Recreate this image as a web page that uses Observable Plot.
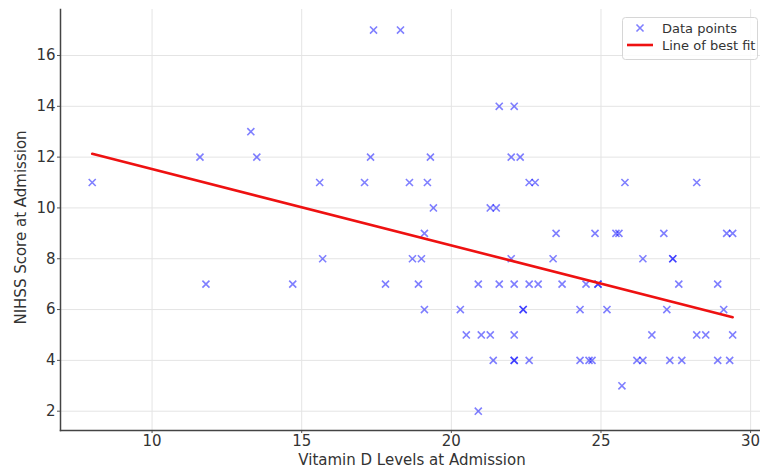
<!DOCTYPE html>
<html>
<head>
<meta charset="utf-8">
<script src="https://cdn.jsdelivr.net/npm/d3@7"></script>
<script src="https://cdn.jsdelivr.net/npm/@observablehq/plot@0.6"></script>
<style>
  html, body { margin: 0; padding: 0; background: #fff; }
  #chart svg { display: block; }
</style>
</head>
<body>
<div id="chart"></div>
<script>
// Vitamin D level (x) and NIHSS score (y), paired
const vitaminD = [
  17.4, 18.3,
  21.6, 22.1,
  13.3,
  11.6, 13.5, 17.3, 19.3, 22.0, 22.3,
  8.0, 15.6, 17.1, 18.6, 19.2, 22.6, 22.8, 25.8, 28.2,
  19.4, 21.3, 21.5,
  19.1, 23.5, 24.8, 25.5, 25.6, 27.1, 29.2, 29.4,
  15.7, 18.7, 19.0, 22.0, 23.4, 26.4, 27.4, 27.4,
  11.8, 14.7, 17.8, 18.9, 20.9, 21.6, 22.1, 22.6, 22.9, 23.7, 24.5, 24.9, 24.9, 27.6, 28.9,
  19.1, 20.3, 22.4, 22.4, 24.3, 25.2, 27.2, 29.1,
  20.5, 21.0, 21.3, 22.1, 26.7, 28.2, 28.5, 29.4,
  21.4, 22.1, 22.1, 22.6, 24.3, 24.6, 24.7, 26.2, 26.4, 27.3, 27.7, 28.9, 29.3,
  25.7,
  20.9
];
const nihss = [
  17, 17,
  14, 14,
  13,
  12, 12, 12, 12, 12, 12,
  11, 11, 11, 11, 11, 11, 11, 11, 11,
  10, 10, 10,
  9, 9, 9, 9, 9, 9, 9, 9,
  8, 8, 8, 8, 8, 8, 8, 8,
  7, 7, 7, 7, 7, 7, 7, 7, 7, 7, 7, 7, 7, 7, 7,
  6, 6, 6, 6, 6, 6, 6, 6,
  5, 5, 5, 5, 5, 5, 5, 5,
  4, 4, 4, 4, 4, 4, 4, 4, 4, 4, 4, 4, 4,
  3,
  2
];
// Line of best fit endpoints
const fitX = [8.0, 29.4];
const fitY = [12.13, 5.70];

const xTicks = [10, 15, 20, 25, 30];
const yTicks = [2, 4, 6, 8, 10, 12, 14, 16];

const xLabel = "Vitamin D Levels at Admission";
const yLabel = "NIHSS Score at Admission";
const legendLabels = ["Data points", "Line of best fit"];

const points = vitaminD.map((v, i) => ({x: v, y: nihss[i]}));
const fit = fitX.map((v, i) => ({x: v, y: fitY[i]}));

const W = 760, H = 470;
const ml = 60, mr = 0, mt = 9, mb = 40;

const plot = Plot.plot({
  width: W,
  height: H,
  marginLeft: ml,
  marginRight: mr,
  marginTop: mt,
  marginBottom: mb,
  style: {fontFamily: "'DejaVu Sans', sans-serif", fontSize: "15px", color: "#333", background: "#fff"},
  x: {domain: [6.94, 30.33], ticks: xTicks, label: null},
  y: {domain: [1.24, 17.81], ticks: yTicks, label: null},
  marks: [
    Plot.gridX(xTicks, {stroke: "#e4e4e4", strokeOpacity: 1, strokeWidth: 1}),
    Plot.gridY(yTicks, {stroke: "#e4e4e4", strokeOpacity: 1, strokeWidth: 1}),
    Plot.axisX(xTicks, {tickSize: 3, tickPadding: 2, fontSize: 15, fill: "#333", stroke: "#555", label: null}),
    Plot.axisY(yTicks, {tickSize: 3, tickPadding: 2, fontSize: 15, fill: "#333", stroke: "#555", label: null}),
    Plot.frame({anchor: "left", stroke: "#444", strokeWidth: 1.5}),
    Plot.frame({anchor: "bottom", stroke: "#444", strokeWidth: 1.5}),
    Plot.dot(points, {x: "x", y: "y", symbol: "times", r: 3.3, stroke: "#0000ff", strokeOpacity: 0.5, strokeWidth: 1.6}),
    Plot.line(fit, {x: "x", y: "y", stroke: "#ee1111", strokeWidth: 2.6})
  ]
});

document.getElementById("chart").appendChild(plot);

const svg = d3.select(plot);
// Axis titles
svg.append("text")
  .attr("x", (ml + W - mr) / 2 + 2)
  .attr("y", 465)
  .attr("text-anchor", "middle")
  .attr("font-size", 15)
  .attr("fill", "#333")
  .text(xLabel);
svg.append("text")
  .attr("transform", `translate(26, ${(mt + H - mb) / 2 + 8}) rotate(-90)`)
  .attr("text-anchor", "middle")
  .attr("font-size", 15)
  .attr("fill", "#333")
  .text(yLabel);

// Legend
const lg = svg.append("g").attr("text-anchor", "start");
lg.append("rect")
  .attr("x", 622.5).attr("y", 17.5).attr("width", 135).attr("height", 42)
  .attr("rx", 3).attr("fill", "#fff").attr("fill-opacity", 0.85)
  .attr("stroke", "#d6d6d6");
lg.append("path")
  .attr("d", d3.symbol(d3.symbolTimes, 3.3 * 3.3 * Math.PI)())
  .attr("transform", "translate(640,28)")
  .attr("fill", "none").attr("stroke", "#0000ff").attr("stroke-opacity", 0.5).attr("stroke-width", 1.6);
lg.append("line")
  .attr("x1", 627).attr("x2", 653).attr("y1", 45).attr("y2", 45)
  .attr("stroke", "#ee1111").attr("stroke-width", 2.6);
lg.selectAll("text.lbl").data(legendLabels).join("text")
  .attr("class", "lbl")
  .attr("x", 662).attr("y", (d, i) => 28 + i * 17)
  .attr("dy", "0.35em")
  .attr("text-anchor", "start")
  .attr("font-size", 13)
  .attr("fill", "#333")
  .text(d => d);
</script>
</body>
</html>
